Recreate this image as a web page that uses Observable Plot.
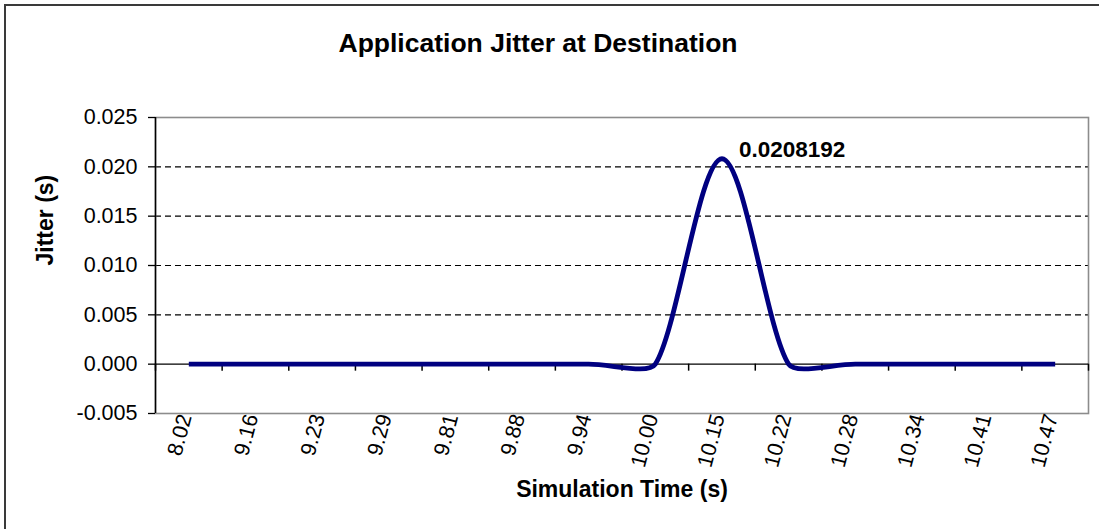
<!DOCTYPE html>
<html><head><meta charset="utf-8">
<script src="https://cdn.jsdelivr.net/npm/d3@7"></script>
<script src="https://cdn.jsdelivr.net/npm/@observablehq/plot@0.6"></script>
<style>
html,body{margin:0;padding:0;background:#fff;overflow:hidden;}
#wrap{position:relative;width:1099px;height:529px;overflow:hidden;}
#border{position:absolute;left:4px;top:4px;width:1200px;height:600px;border-left:2px solid #3a3a3a;border-top:2px solid #3a3a3a;pointer-events:none;}
</style></head><body>
<div id="wrap"><div id="chart"></div><div id="border"></div></div>
<script>
// ---- data ----
const chartTitle = "Application Jitter at Destination";
const xTitle = "Simulation Time (s)";
const yTitle = "Jitter (s)";
const times = ["8.02","9.16","9.23","9.29","9.81","9.88","9.94","10.00","10.15","10.22","10.28","10.34","10.41","10.47"];
const jitter = [0,0,0,0,0,0,0,0,0.0208192,0,0,0,0,0];
const yTicks = [-0.005,0,0.005,0.010,0.015,0.020,0.025];

// Excel-like smoothed line: Catmull-Rom tangents, handles shortened next to much longer segments
function ExcelSmooth(context){ this._context = context; }
ExcelSmooth.prototype = {
  areaStart(){ this._line = 0; },
  areaEnd(){ this._line = NaN; },
  lineStart(){ this._x = []; this._y = []; },
  point(x, y){ this._x.push(+x); this._y.push(+y); },
  lineEnd(){
    const X = this._x, Y = this._y, n = X.length, c = this._context;
    if (n) {
      this._line ? c.lineTo(X[0], Y[0]) : c.moveTo(X[0], Y[0]);
      if (n === 2) c.lineTo(X[1], Y[1]);
      else for (let i = 0; i < n - 1; ++i) {
        const i0 = Math.max(0, i - 1), i3 = Math.min(n - 1, i + 2);
        const dseg = Math.hypot(X[i+1]-X[i], Y[i+1]-Y[i]);
        const dprev = i > 0 ? Math.hypot(X[i]-X[i-1], Y[i]-Y[i-1]) : dseg;
        const dnext = i + 2 < n ? Math.hypot(X[i+2]-X[i+1], Y[i+2]-Y[i+1]) : dseg;
        const f1 = Math.min(1, dseg / dprev) / 6, f2 = Math.min(1, dseg / dnext) / 6;
        const tx1 = (X[i+1]-X[i0]) * (i > 0 ? 1 : 2), ty1 = (Y[i+1]-Y[i0]) * (i > 0 ? 1 : 2);
        const tx2 = (X[i3]-X[i]) * (i + 2 < n ? 1 : 2), ty2 = (Y[i3]-Y[i]) * (i + 2 < n ? 1 : 2);
        c.bezierCurveTo(X[i] + f1*tx1, Y[i] + f1*ty1, X[i+1] - f2*tx2, Y[i+1] - f2*ty2, X[i+1], Y[i+1]);
      }
    }
    if (this._line || (this._line !== 0 && n === 1)) c.closePath();
    this._line = 1 - this._line;
  }
};
const excelCurve = (context) => new ExcelSmooth(context);

const rows = times.map((t, i) => ({i, t, v: jitter[i]}));
const peak = rows.reduce((a, b) => (b.v > a.v ? b : a));
const font = '"Liberation Sans", Arial, Helvetica, sans-serif';

const chart = Plot.plot({
  width: 1099, height: 529,
  marginTop: 117, marginBottom: 116, marginLeft: 155, marginRight: 11,
  style: {fontFamily: font, fontSize: "21.5px", color: "black", background: "white", overflow: "visible"},
  x: {domain: [0, times.length], axis: null},
  y: {domain: [yTicks[0], yTicks[yTicks.length-1]], axis: null},
  marks: [
    Plot.gridY(yTicks.filter(v => v > 0 && v < yTicks[yTicks.length-1]), {stroke: "black", strokeOpacity: 1, strokeWidth: 1.2, strokeDasharray: "6,4"}),
    Plot.frame({stroke: "#8c8c8c", strokeWidth: 1.6}),
    Plot.ruleY([0], {stroke: "black", strokeWidth: 1.3}),
    Plot.ruleX(d3.range(times.length + 1), {x: d => d, y1: 0, y2: 0, insetBottom: -7, stroke: "black", strokeWidth: 1.5}),
    Plot.axisY({ticks: yTicks, tickFormat: d => d.toFixed(3), tickSize: 7, tickPadding: 11, label: null, stroke: "black", strokeWidth: 1.3, fontSize: 21.5}),
    Plot.ruleX([0], {stroke: "black", strokeWidth: 1.5}),
    Plot.line(rows, {x: d => d.i + 0.5, y: "v", curve: excelCurve, stroke: "#000080", strokeWidth: 4.8, strokeLinecap: "butt"}),
    Plot.text(rows, {x: d => d.i + 0.5, frameAnchor: "bottom", text: "t", rotate: -75, textAnchor: "end", dy: 3, dx: 3, fontSize: 21.5}),
    Plot.text([peak], {x: d => d.i + 0.5, y: "v", text: d => String(d.v), textAnchor: "start", dx: 17, dy: -9, fontWeight: "bold", fontSize: 22.5}),
    Plot.text([yTitle], {text: d => d, frameAnchor: "left", dx: -110, rotate: -90, fontWeight: "bold", fontSize: 23}),
    Plot.text([xTitle], {text: d => d, frameAnchor: "bottom", dy: 83, fontWeight: "bold", fontSize: 23}),
    Plot.text([chartTitle], {text: d => d, frameAnchor: "top", dx: -84, dy: -84, fontWeight: "bold", fontSize: 26.5})
  ]
});
document.getElementById("chart").appendChild(chart);
</script>
</body></html>
